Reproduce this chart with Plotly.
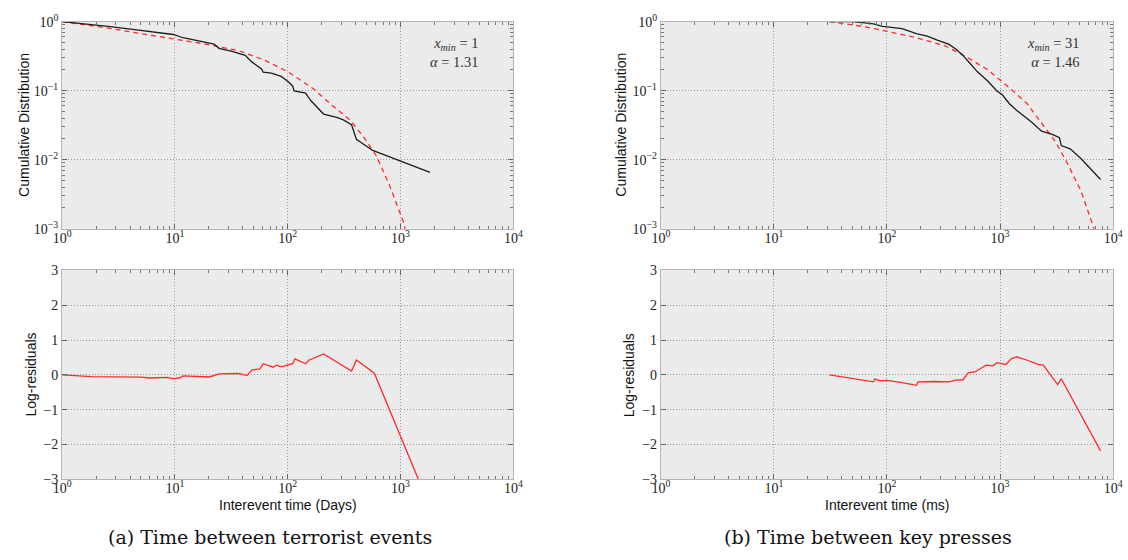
import plotly.graph_objects as go

# ---------------- data ----------------
# (a) terrorist events: empirical CCDF
terror_x = [1, 1.6, 2.55, 4.06, 6.06, 7.92, 9.68, 11.8, 18.9, 22.3, 24.6, 32.1, 42.0, 48.0,
            58.6, 60.6, 71.6, 87.5, 100, 110.5, 114, 144, 160, 182, 208, 272, 311, 368,
            406, 567, 1032, 1824]
terror_cdf = [1.0, 0.93, 0.851, 0.781, 0.724, 0.672, 0.651, 0.584, 0.497, 0.471, 0.410, 0.372,
              0.324, 0.261, 0.206, 0.185, 0.179, 0.161, 0.137, 0.117, 0.099, 0.092, 0.072,
              0.058, 0.0458, 0.0411, 0.0377, 0.0321, 0.0198, 0.0136, 0.00933, 0.00655]
# (a) fitted distribution (dashed)
terror_fit_x = [1, 2.55, 4.96, 10.2, 18.9, 36.7, 62.7, 100, 171, 238, 356, 464, 606, 792, 1069, 1150]
terror_fit = [1.0, 0.807, 0.672, 0.554, 0.471, 0.380, 0.275, 0.189, 0.105, 0.0646, 0.0377,
              0.0220, 0.0116, 0.0044, 0.00121, 0.0007]
# (a) log-residuals
terror_res_x = [1, 1.82, 4.96, 6.06, 8.47, 9.68, 11.0, 11.8, 20.2, 24.6, 36.7, 43.4, 48.0, 56.7,
                60.6, 74.1, 79.1, 87.5, 110.5, 115.8, 144, 154, 208, 368, 406, 586, 1444, 1824]
terror_res = [0.0, -0.05, -0.065, -0.09, -0.07, -0.11, -0.09, -0.03, -0.06, 0.03, 0.04, -0.02,
              0.14, 0.17, 0.32, 0.22, 0.28, 0.23, 0.32, 0.46, 0.32, 0.42, 0.60, 0.11, 0.43,
              0.05, -3.01, -3.8]

# (b) key presses: empirical CCDF
keys_x = [31.1, 49.2, 61.2, 76.1, 91.3, 136, 182, 227, 282, 351, 406, 470, 544, 629, 782, 938,
          1047, 1211, 1400, 1874, 2332, 2900, 3355, 3479, 4174, 5190, 7748]
keys_cdf = [1.0, 1.0, 0.968, 0.928, 0.851, 0.789, 0.672, 0.617, 0.536, 0.471, 0.401, 0.324,
            0.247, 0.189, 0.137, 0.099, 0.0873, 0.0646, 0.0521, 0.0357, 0.0259, 0.0233, 0.0209,
            0.0160, 0.0144, 0.0104, 0.00517]
# (b) fitted distribution (dashed)
keys_fit_x = [31, 61.2, 100, 182, 326, 506, 782, 1211, 1742, 2332, 3120, 3880, 5190, 6695, 6950]
keys_fit = [1.0, 0.851, 0.724, 0.584, 0.447, 0.307, 0.2, 0.110, 0.0646, 0.0339, 0.0178,
            0.00933, 0.00355, 0.00107, 0.00088]
# (b) log-residuals
keys_res_x = [31, 61.2, 76.1, 78, 88, 100, 136, 182, 188, 262, 351, 406, 470, 524, 604, 754,
              870, 938, 1047, 1126, 1256, 1400, 1742, 2165, 2415, 3236, 3479, 5190, 7748]
keys_res = [0.0, -0.16, -0.20, -0.12, -0.17, -0.16, -0.22, -0.30, -0.20, -0.19, -0.20, -0.15,
            -0.14, 0.06, 0.09, 0.28, 0.26, 0.35, 0.31, 0.30, 0.46, 0.52, 0.42, 0.30, 0.28,
            -0.28, -0.11, -1.16, -2.18]

# tick labels
x_tickvals = [1, 10, 100, 1000, 10000]
x_ticktext = ["10<sup>0</sup>", "10<sup>1</sup>", "10<sup>2</sup>", "10<sup>3</sup>", "10<sup>4</sup>"]
cdf_tickvals = [0.001, 0.01, 0.1, 1]
cdf_ticktext = ["10<sup>\u22123</sup>", "10<sup>\u22122</sup>", "10<sup>\u22121</sup>", "10<sup>0</sup>"]
res_tickvals = [-3, -2, -1, 0, 1, 2, 3]
res_ticktext = ["\u22123", "\u22122", "\u22121", "0", "1", "2", "3"]

fit_params = [("1", "1.31"), ("31", "1.46")]
x_titles = ["Interevent time (Days)", "Interevent time (ms)"]
captions = ["(a) Time between terrorist events", "(b) Time between key presses"]

# ---------------- figure ----------------
W, H = 1128, 560
BLACK = "#1e1e1e"
RED = "#ff2a2a"


def dx(a, b):
    return [a / W, b / W]


def dy(top, bottom):
    return [1 - bottom / H, 1 - top / H]


fig = go.Figure()

panels = [
    ("x", "y", terror_x, terror_cdf, terror_fit_x, terror_fit),
    ("x2", "y2", keys_x, keys_cdf, keys_fit_x, keys_fit),
]
for xa, ya, ex, ey, fx, fy in panels:
    fig.add_trace(go.Scatter(x=fx, y=fy, xaxis=xa, yaxis=ya, mode="lines",
                             line=dict(color=RED, width=1.3, dash="5px,4px"), showlegend=False))
    fig.add_trace(go.Scatter(x=ex, y=ey, xaxis=xa, yaxis=ya, mode="lines",
                             line=dict(color=BLACK, width=1.3), showlegend=False))

fig.add_trace(go.Scatter(x=terror_res_x, y=terror_res, xaxis="x3", yaxis="y3", mode="lines",
                         line=dict(color=RED, width=1.3), showlegend=False))
fig.add_trace(go.Scatter(x=keys_res_x, y=keys_res, xaxis="x4", yaxis="y4", mode="lines",
                         line=dict(color=RED, width=1.3), showlegend=False))

minor_log = [m * 10 ** k for k in range(-3, 4) for m in range(2, 10)]

common = dict(showline=True, linecolor="#b5b5b5", linewidth=1, mirror="allticks",
              ticks="inside", ticklen=5, tickcolor="#666666", tickwidth=1,
              showgrid=True, gridcolor="#9a9a9a", griddash="1px,2px", gridwidth=1,
              zeroline=False,
              tickfont=dict(family="Liberation Serif", size=14, color="#222222"))

minor = dict(tickvals=minor_log, ticks="inside", ticklen=3, tickcolor="#777777",
             showgrid=False)

left = dx(54, 513)
right = dx(663, 1123)
top = dy(12, 226)
bottom = dy(269, 485)

def xaxis(domain, anchor):
    return dict(common, type="log", range=[0, 4], domain=domain, anchor=anchor,
                tickvals=x_tickvals, ticktext=x_ticktext, minor=minor,
                ticklabelstandoff=-4)

def ycdf(domain, anchor):
    return dict(common, type="log", range=[-3, 0], domain=domain, anchor=anchor,
                tickvals=cdf_tickvals, ticktext=cdf_ticktext, minor=minor)

def yres(domain, anchor):
    return dict(common, type="linear", range=[-3, 3], domain=domain, anchor=anchor,
                tickvals=res_tickvals, ticktext=res_ticktext)

fig.update_layout(
    width=W, height=H, margin=dict(l=0, r=0, t=0, b=0),
    paper_bgcolor="white", plot_bgcolor="#ebebeb",
    xaxis=xaxis(left, "y"), yaxis=ycdf(top, "x"),
    xaxis2=xaxis(right, "y2"), yaxis2=ycdf(top, "x2"),
    xaxis3=xaxis(left, "y3"), yaxis3=yres(bottom, "x3"),
    xaxis4=xaxis(right, "y4"), yaxis4=yres(bottom, "x4"),
)

ann = []
sans = dict(family="Liberation Sans", size=14, color="#111111")
serif = dict(family="Liberation Serif", size=14.5, color="#333333")
for i, (cx, ylab_x, note_x) in enumerate([(283.5, 15, 479), (893, 623, 1091)]):
    ann.append(dict(text="Cumulative Distribution", x=ylab_x / W, y=1 - 119 / H,
                    xref="paper", yref="paper", textangle=-90, showarrow=False,
                    font=sans, xanchor="center", yanchor="middle"))
    ann.append(dict(text="Log-residuals", x=(ylab_x + 7) / W, y=1 - 377 / H,
                    xref="paper", yref="paper", textangle=-90, showarrow=False,
                    font=sans, xanchor="center", yanchor="middle"))
    ann.append(dict(text=x_titles[i], x=cx / W, y=1 - 511 / H, xref="paper", yref="paper",
                    showarrow=False, font=sans, xanchor="center", yanchor="middle"))
    ann.append(dict(text=captions[i], x=(265 if i == 0 else 874) / W, y=1 - 545 / H,
                    xref="paper", yref="paper", showarrow=False,
                    font=dict(family="DejaVu Serif", size=19, color="#111111"),
                    xanchor="center", yanchor="middle"))
    xm, al = fit_params[i]
    ann.append(dict(text=f"<i>x</i><sub><i>min</i></sub> = {xm}<br><i>\u03b1</i> = {al}",
                    x=note_x / W, y=1 - 44 / H, xref="paper", yref="paper",
                    showarrow=False, font=serif, align="right",
                    xanchor="right", yanchor="middle"))
fig.update_layout(annotations=ann)

fig.write_html("out.html")
